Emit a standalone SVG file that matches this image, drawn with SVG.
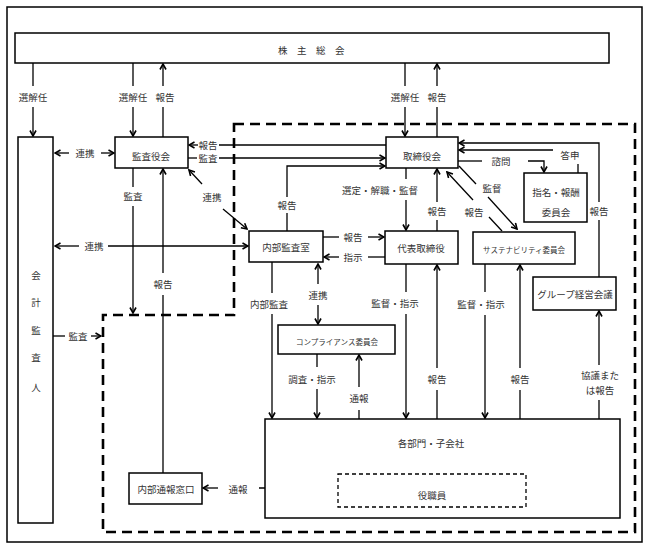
<svg xmlns="http://www.w3.org/2000/svg" width="648" height="548" viewBox="0 0 648 548">
<defs>
<marker id="a" viewBox="0 0 8 8" refX="7" refY="4" markerWidth="8" markerHeight="8" markerUnits="userSpaceOnUse" orient="auto-start-reverse">
<path d="M1.5,1 L7,4 L1.5,7" fill="none" stroke="#000" stroke-width="1.6"/>
</marker>
<style>
.b{fill:#fff;stroke:#000;stroke-width:1.5}
.l{fill:none;stroke:#000;stroke-width:1.3}
.e{marker-end:url(#a)}
.s{marker-start:url(#a)}
.t{font-family:"Noto Sans CJK JP","Noto Sans CJK SC",sans-serif;font-size:9.5px;fill:#333;text-anchor:middle;dominant-baseline:central}
.sm{font-size:7.5px}
.d{fill:none;stroke:#000;stroke-width:2.6;stroke-dasharray:10 6}
</style>
</defs>
<rect width="648" height="548" fill="#fff"/>
<rect x="7" y="7" width="635" height="535" fill="none" stroke="#000" stroke-width="1.5"/>
<path class="d" d="M234,124 H635 V532 H103 V315 H234 Z"/>

<g id="connectors">
<path class="l" d="M33,63 V86"/><path class="l e" d="M33,107 V136"/><text class="t" x="33" y="97">選解任</text>
<path class="l" d="M133,63 V86"/><path class="l e" d="M133,107 V136"/><text class="t" x="133" y="97">選解任</text>
<path class="l" d="M163,137 V107"/><path class="l e" d="M163,86 V64"/><text class="t" x="165" y="97">報告</text>
<path class="l" d="M405,63 V86"/><path class="l e" d="M405,107 V136"/><text class="t" x="405" y="97">選解任</text>
<path class="l" d="M437,137 V107"/><path class="l e" d="M437,86 V64"/><text class="t" x="437" y="97">報告</text>

<path class="l e" d="M69,153 H55"/><path class="l e" d="M101,153 H114"/><text class="t" x="85" y="153">連携</text>
<path class="l" d="M386,145 H219"/><path class="l e" d="M198,145 H189"/><text class="t" x="208" y="145">報告</text>
<path class="l" d="M188,158 H197"/><path class="l e" d="M219,158 H385"/><text class="t" x="208" y="158">監査</text>
<path class="l" d="M287,231 V213"/><path class="l e" d="M287,197 V166 H385"/><text class="t" x="287" y="205">報告</text>
<path class="l s" d="M189,170 L202,184"/><path class="l e" d="M223,209 L247,229"/><text class="t" x="212" y="197">連携</text>
<path class="l" d="M133,168 V187"/><path class="l e" d="M133,206 V313"/><text class="t" x="133" y="196">監査</text>
<path class="l" d="M163,473 V295"/><path class="l e" d="M163,273 V169"/><text class="t" x="163" y="284">報告</text>
<path class="l e" d="M79,246 H55"/><path class="l e" d="M108,246 H248"/><text class="t" x="94" y="246">連携</text>
<path class="l" d="M53,336 H65"/><path class="l e" d="M91,336 H101"/><text class="t" x="78" y="336">監査</text>

<path class="l" d="M406,168 V179"/><path class="l e" d="M406,200 V230"/><text class="t" x="380" y="190">選定・解職・監督</text>
<path class="l" d="M323,237 H339"/><path class="l e" d="M368,237 H384"/><text class="t" x="353" y="237">報告</text>
<path class="l" d="M385,257 H368"/><path class="l e" d="M339,257 H324"/><text class="t" x="353" y="257">指示</text>
<path class="l" d="M437,231 V220"/><path class="l e" d="M437,202 V169"/><text class="t" x="437" y="211">報告</text>
<path class="l" d="M459,166 L476,184"/><path class="l e" d="M488,197 L517,229"/><text class="t" x="492" y="188">監督</text>
<path class="l" d="M502,231 L489,217"/><path class="l e" d="M473,200 L447,172"/><text class="t" x="474" y="212">報告</text>
<path class="l" d="M458,161 H482"/><path class="l e" d="M528,161 H544 V172"/><text class="t" x="501" y="161">諮問</text>
<path class="l" d="M578,173 V164"/><path class="l e" d="M553,150 H459"/><text class="t" x="570" y="155">答申</text>
<path class="l" d="M599,277 V220"/><path class="l e" d="M599,202 V143 H459"/><text class="t" x="599" y="211">報告</text>
<path class="l" d="M599,419 V400"/><path class="l e" d="M599,365 V311"/><text class="t" x="600" y="375">協議また</text><text class="t" x="600" y="390">は報告</text>

<path class="l" d="M272,262 V293"/><path class="l e" d="M272,314 V418"/><text class="t" x="269" y="304">内部監査</text>
<path class="l s" d="M318,264 V284"/><path class="l e" d="M318,305 V324"/><text class="t" x="318" y="295">連携</text>
<path class="l" d="M406,264 V292"/><path class="l e" d="M406,314 V418"/><text class="t" x="395" y="303">監督・指示</text>
<path class="l" d="M317,354 V367"/><path class="l e" d="M317,389 V418"/><text class="t" x="312" y="379">調査・指示</text>
<path class="l" d="M359,474 V410"/><path class="l e" d="M359,387 V355"/><text class="t" x="359" y="398">通報</text>
<path class="l" d="M437,419 V390"/><path class="l e" d="M437,368 V265"/><text class="t" x="437" y="379">報告</text>
<path class="l" d="M485,264 V292"/><path class="l e" d="M485,315 V418"/><text class="t" x="481" y="304">監督・指示</text>
<path class="l" d="M520,419 V390"/><path class="l e" d="M520,368 V265"/><text class="t" x="520" y="379">報告</text>
<path class="l" d="M338,488 H259"/><path class="l e" d="M218,488 H203"/><text class="t" x="238" y="489">通報</text>
</g>

<g id="shareholders"><rect class="b" x="15" y="33" width="594" height="30"/><text class="t" x="316" y="50" letter-spacing="9.5">株主総会</text></g>
<g id="auditor"><rect class="b" x="18" y="137" width="35" height="386"/>
<text class="t" x="36" y="275">会</text><text class="t" x="36" y="302">計</text><text class="t" x="36" y="330">監</text><text class="t" x="36" y="357">査</text><text class="t" x="36" y="387">人</text></g>
<g id="kansayakukai"><rect class="b" x="115" y="137" width="73" height="31"/><text class="t" x="151" y="156">監査役会</text></g>
<g id="torishimariyakukai"><rect class="b" x="386" y="137" width="72" height="31"/><text class="t" x="422" y="156">取締役会</text></g>
<g id="naibukansa"><rect class="b" x="249" y="231" width="74" height="31"/><text class="t" x="286" y="247">内部監査室</text></g>
<g id="daihyo"><rect class="b" x="385" y="231" width="73" height="33"/><text class="t" x="421" y="248">代表取締役</text></g>
<g id="shimei"><rect class="b" x="524" y="173" width="63" height="49"/><text class="t" x="556" y="192">指名・報酬</text><text class="t" x="556" y="212">委員会</text></g>
<g id="sustainability"><rect class="b" x="473" y="232" width="102" height="32"/><text class="t sm" x="524" y="249">サステナビリティ委員会</text></g>
<g id="group"><rect class="b" x="533" y="277" width="83" height="33"/><text class="t" x="575" y="294">グループ経営会議</text></g>
<g id="compliance"><rect class="b" x="278" y="325" width="117" height="29"/><text class="t sm" x="337" y="341">コンプライアンス委員会</text></g>
<g id="bumon"><rect class="b" x="265" y="419" width="355" height="99"/><text class="t" x="431" y="443">各部門・子会社</text></g>
<g id="yakushokuin"><rect x="338" y="474" width="188" height="33" fill="#fff" stroke="#000" stroke-width="1.3" stroke-dasharray="4 3"/><text class="t" x="432" y="495">役職員</text></g>
<g id="tsuhomadoguchi"><rect class="b" x="129" y="473" width="73" height="31"/><text class="t" x="166" y="489">内部通報窓口</text></g>
</svg>
